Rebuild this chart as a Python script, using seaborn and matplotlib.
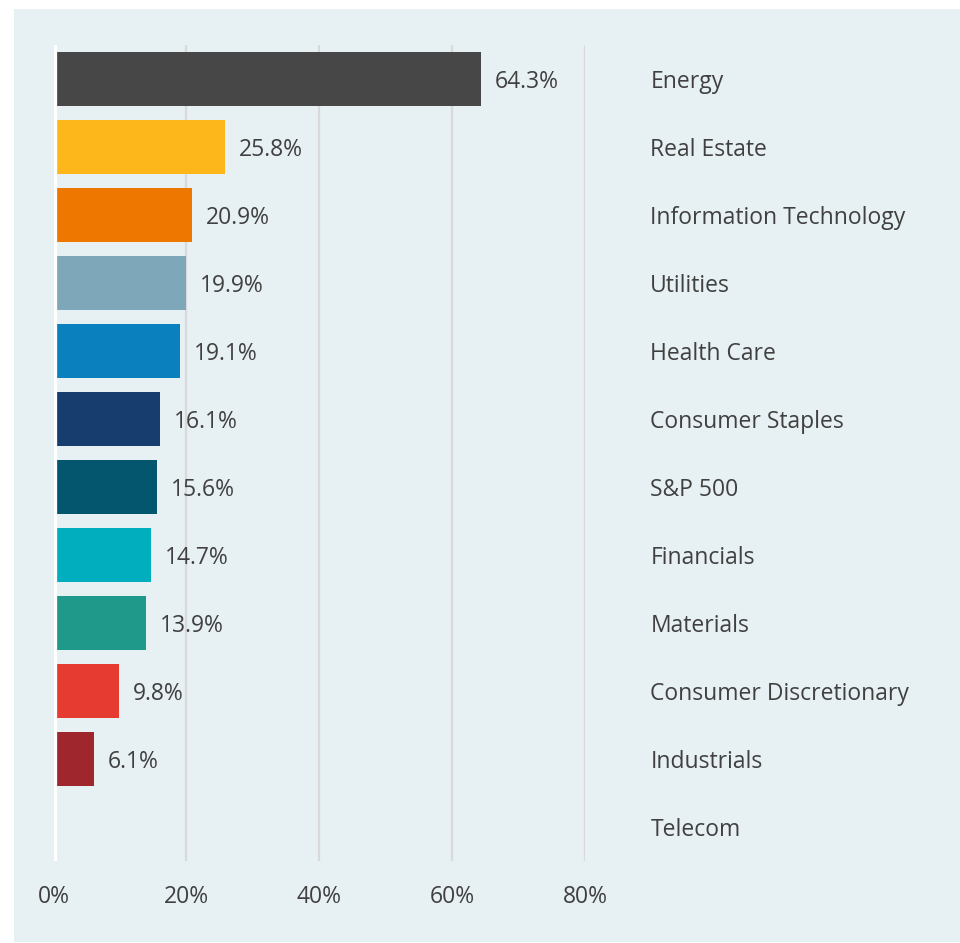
import matplotlib
matplotlib.use("Agg")
import matplotlib.pyplot as plt
import matplotlib.transforms as mtransforms
from matplotlib.patches import Rectangle
import seaborn as sns
import pandas as pd
import numpy as np

categories = ["Energy", "Real Estate", "Information Technology", "Utilities",
              "Health Care", "Consumer Staples", "S&P 500", "Financials",
              "Materials", "Consumer Discretionary", "Industrials", "Telecom"]
values = [64.3, 25.8, 20.9, 19.9, 19.1, 16.1, 15.6, 14.7, 13.9, 9.8, 6.1, np.nan]
colors = ["#474747", "#FDB71A", "#EE7700", "#7FA7BA", "#0B80BF", "#173D6E",
          "#03566E", "#00AEBD", "#1F9A8A", "#E63B30", "#A0262E", "#999999"]
xticks = [0, 20, 40, 60, 80]
xtick_labels = ["0%", "20%", "40%", "60%", "80%"]

sns.set_theme(style="white")
plt.rcParams["font.family"] = ["Open Sans", "DejaVu Sans"]

panel = "#E7F0F3"
text_color = "#404040"
fs = 16.5

fig = plt.figure(figsize=(9.6, 9.43), dpi=100)
fig.patch.set_facecolor("white")
fig.patches.append(Rectangle((14 / 960, 1 / 943), (960 - 14) / 960, (942 - 9) / 943,
                             transform=fig.transFigure, facecolor=panel,
                             edgecolor="none", zorder=-10))

ax = fig.add_axes([53.5 / 960, 1 - 861 / 943, (585 - 53.5) / 960, (861 - 45) / 943])
ax.set_facecolor(panel)
ax.set_zorder(2)

df = pd.DataFrame({"category": categories, "value": values})
sns.barplot(data=df, y="category", x="value", hue="category",
            palette=colors, legend=False, orient="h", width=0.78,
            ax=ax, zorder=3, saturation=1, linewidth=0)

ax.set_xlim(0, 80)
ax.set_ylim(11.5, -0.5)
for t in xticks[1:]:
    ax.axvline(t, color="#D9D9D9", lw=1.6, zorder=1)
ax.axvline(0, color="white", lw=3.8, zorder=4)

for s in ax.spines.values():
    s.set_visible(False)

ax.set_xticks(xticks)
ax.set_xticklabels(xtick_labels, fontsize=fs, color=text_color)
ax.tick_params(axis="x", length=0, pad=17)

ax.yaxis.tick_right()
ax.set_yticks(range(len(categories)))
ax.set_yticklabels(categories, fontsize=fs, color=text_color)
ax.tick_params(axis="y", length=0, pad=47)
for lbl in ax.get_yticklabels():
    lbl.set_horizontalalignment("left")

ax.set_xlabel("")
ax.set_ylabel("")

offset = mtransforms.offset_copy(ax.transData, fig=fig, x=10, y=0, units="points")
for i, v in enumerate(values):
    if not np.isnan(v):
        ax.text(v, i, f"{v:.1f}%", transform=offset, ha="left", va="center_baseline",
                fontsize=fs, color=text_color, zorder=5)

fig.savefig("out.png", dpi=100, facecolor=fig.get_facecolor())
